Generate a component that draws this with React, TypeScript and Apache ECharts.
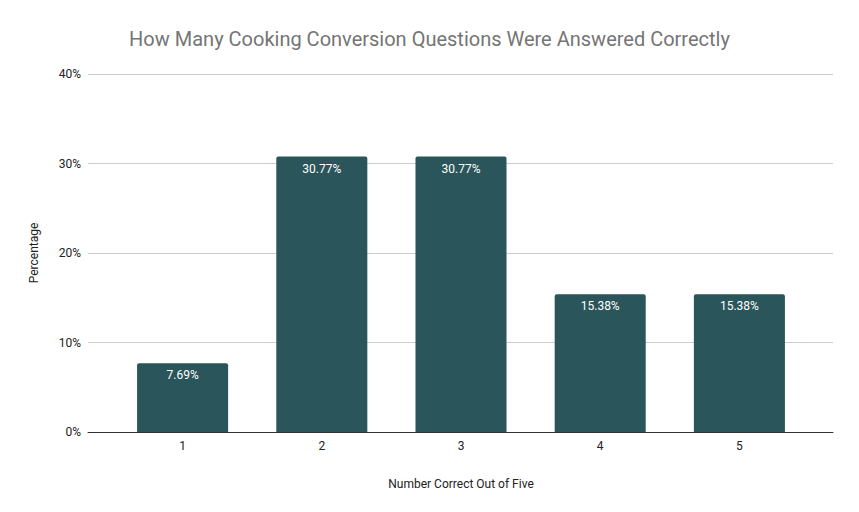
import React, { useEffect, useRef } from "react";
import * as echarts from "echarts";

const categories = ["1", "2", "3", "4", "5"];
const percentages = [7.69, 30.77, 30.77, 15.38, 15.38];
const yTicks = { min: 0, max: 40, interval: 10 };

export default function App() {
  const ref = useRef<HTMLDivElement>(null);
  useEffect(() => {
    document.body.style.margin = "0";
    const chart = echarts.init(ref.current!, null, { renderer: "svg" });
    const font = "Roboto";
    chart.setOption({
      animation: false,
      backgroundColor: "#ffffff",
      textStyle: { fontFamily: font },
      title: {
        text: "How Many Cooking Conversion Questions Were Answered Correctly",
        left: "center",
        top: 24,
        textStyle: { fontFamily: font, fontSize: 20, fontWeight: "normal", color: "#757575" },
      },
      grid: [
        { left: 88, right: 26, top: 74, bottom: 80, containLabel: false },
        { left: 113, right: 50, top: 74, bottom: 80, containLabel: false },
      ],
      xAxis: [
        {
          type: "category",
          gridIndex: 0,
          data: categories,
          axisLine: { show: true, lineStyle: { color: "#333333", width: 1 } },
          axisTick: { show: false },
          axisLabel: { show: false },
          z: 5,
        },
        {
          type: "category",
          gridIndex: 1,
          data: categories,
          name: "Number Correct Out of Five",
          nameLocation: "middle",
          nameGap: 46,
          nameTextStyle: { fontFamily: font, fontSize: 12, color: "#222222" },
          axisLine: { show: false },
          axisTick: { show: false },
          axisLabel: { fontFamily: font, fontSize: 12, color: "#222222", margin: 8 },
        },
      ],
      yAxis: [
        {
          type: "value",
          gridIndex: 0,
          min: yTicks.min,
          max: yTicks.max,
          interval: yTicks.interval,
          name: "Percentage",
          nameLocation: "middle",
          nameGap: 48,
          nameTextStyle: { fontFamily: font, fontSize: 12, color: "#222222" },
          axisLine: { show: false },
          axisTick: { show: false },
          axisLabel: { fontFamily: font, fontSize: 12, color: "#222222", margin: 7, formatter: "{value}%" },
          splitLine: { lineStyle: { color: "#cccccc", width: 1 } },
        },
        {
          type: "value",
          gridIndex: 1,
          min: yTicks.min,
          max: yTicks.max,
          interval: yTicks.interval,
          axisLine: { show: false },
          axisTick: { show: false },
          axisLabel: { show: false },
          splitLine: { show: false },
        },
      ],
      series: [
        {
          type: "bar",
          xAxisIndex: 1,
          yAxisIndex: 1,
          data: percentages,
          barCategoryGap: "34.6%",
          itemStyle: { color: "#2a555a", borderRadius: [2, 2, 0, 0] },
          label: {
            show: true,
            position: "insideTop",
            distance: 6,
            color: "#ffffff",
            fontFamily: font,
            fontSize: 12,
            formatter: (p: any) => p.value.toFixed(2) + "%",
          },
        },
      ],
    });
    return () => chart.dispose();
  }, []);
  return <div ref={ref} style={{ width: 859, height: 512 }} />;
}
